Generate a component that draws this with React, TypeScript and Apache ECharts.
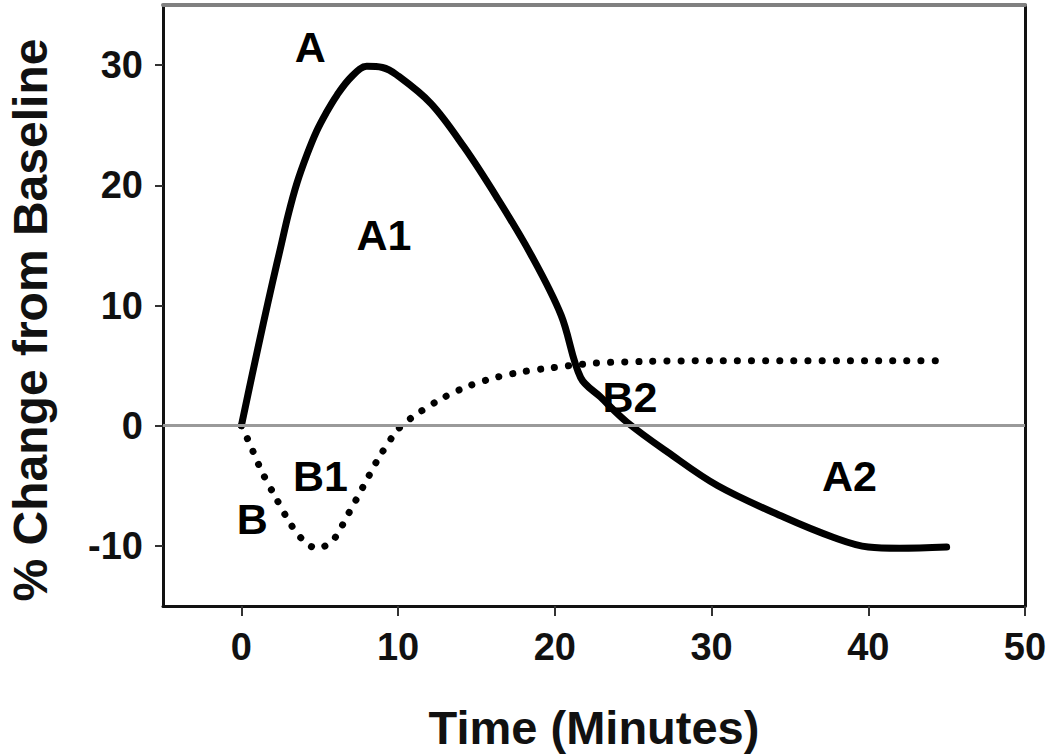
import React, { useEffect, useRef } from "react";
import * as echarts from "echarts";

const FONT = '"Liberation Sans", Arial, Helvetica, sans-serif';

const xTicks = [0, 10, 20, 30, 40, 50];
const yTicks = [-10, 0, 10, 20, 30];

// Solid curve (A)
const curveA: number[][] = [
  [0, 0], [0.7, 4.3], [1.4, 8.5], [2.0, 12.0], [2.5, 14.8], [3.0, 17.6],
  [3.55, 20.2], [4.2, 22.6], [4.8, 24.5], [5.4, 26.0], [6.1, 27.5],
  [7.0, 29.0], [8.0, 29.9], [9.0, 29.8], [9.9, 29.2],
  [12.1, 26.8], [14.2, 23.2], [16.3, 19.0], [18.45, 14.3], [20.4, 9.2],
  [21.65, 4.0], [22.9, 2.4], [24.6, 0.3], [27.2, -2.2], [30.4, -5.0],
  [34.6, -7.6], [37.8, -9.3], [40.0, -10.1], [42.0, -10.2], [45.0, -10.1],
];

// Dotted curve (B)
const curveB: number[][] = [
  [0, 0], [0.5, -1.4], [1.3, -3.8], [2.2, -6.0], [3.2, -8.3], [4.0, -9.6],
  [4.8, -10.2], [5.8, -9.6], [6.8, -7.4], [7.8, -5.0], [8.8, -2.6],
  [10.0, -0.3], [10.9, 0.7], [12.7, 2.2], [14.4, 3.25], [16.2, 4.0],
  [18.0, 4.5], [19.7, 4.8], [22.5, 5.2], [25.9, 5.35], [30.0, 5.4], [45.0, 5.4],
];

const annotations = [
  { name: "A", x: 4.4, y: 31.5 },
  { name: "A1", x: 9.1, y: 15.9 },
  { name: "B", x: 0.7, y: -7.8 },
  { name: "B1", x: 5.05, y: -4.2 },
  { name: "B2", x: 24.8, y: 2.4 },
  { name: "A2", x: 38.8, y: -4.2 },
];

const xTitle = "Time (Minutes)";
const yTitle = "% Change from Baseline";

export default function App() {
  const ref = useRef<HTMLDivElement>(null);
  useEffect(() => {
    const chart = echarts.init(ref.current!, null, { renderer: "svg" });
    chart.setOption({
      animation: false,
      backgroundColor: "#fff",
      grid: { left: 163, right: 25, top: 5, bottom: 149 },
      xAxis: [
        {
          type: "value", min: -5, max: 50, position: "bottom",
          axisLine: { show: true, onZero: false, lineStyle: { color: "#111", width: 3 } },
          axisTick: { show: true, customValues: xTicks, length: 10, lineStyle: { color: "#333", width: 2 } },
          axisLabel: { customValues: xTicks, margin: 22, fontSize: 38, fontWeight: "bold", color: "#111", fontFamily: FONT },
          splitLine: { show: false },
          name: xTitle, nameLocation: "middle", nameGap: 98,
          nameTextStyle: { fontSize: 47, fontWeight: "bold", color: "#111", fontFamily: FONT },
        },
        {
          type: "value", min: -5, max: 50, position: "top",
          axisLine: { show: true, onZero: false, lineStyle: { color: "#808080", width: 4 } },
          axisTick: { show: false }, axisLabel: { show: false }, splitLine: { show: false },
        },
      ],
      yAxis: [
        {
          type: "value", min: -15, max: 35, position: "left",
          axisLine: { show: true, onZero: false, lineStyle: { color: "#111", width: 3 } },
          axisTick: { show: true, customValues: yTicks, length: 8, lineStyle: { color: "#333", width: 2 } },
          axisLabel: { customValues: yTicks, margin: 20, fontSize: 38, fontWeight: "bold", color: "#111", fontFamily: FONT },
          splitLine: { show: false },
        },
        {
          type: "value", min: -15, max: 35, position: "right",
          axisLine: { show: true, onZero: false, lineStyle: { color: "#111", width: 3 } },
          axisTick: { show: false }, axisLabel: { show: false }, splitLine: { show: false },
        },
      ],
      graphic: [
        {
          type: "text", x: 30, y: 320, rotation: Math.PI / 2,
          style: {
            text: yTitle, textAlign: "center", textVerticalAlign: "middle",
            fontSize: 48, fontWeight: "bold", fill: "#111", fontFamily: FONT,
          },
        },
      ],
      series: [
        {
          name: "B", type: "line", data: curveB, smooth: 0.3, symbol: "none",
          lineStyle: { color: "#000", width: 7, type: [0.1, 14], cap: "round" },
          markLine: {
            silent: true, symbol: ["none", "none"], label: { show: false },
            lineStyle: { color: "#9a9a9a", width: 3, type: "solid" },
            data: [{ yAxis: 0 }],
          },
          z: 2,
        },
        {
          name: "A", type: "line", data: curveA, smooth: 0.35, symbol: "none",
          lineStyle: { color: "#000", width: 7, type: "solid", cap: "round", join: "round" },
          z: 3,
        },
        {
          name: "labels", type: "scatter", symbolSize: 1,
          itemStyle: { color: "rgba(0,0,0,0)", opacity: 1 },
          data: annotations.map((a) => ({ name: a.name, value: [a.x, a.y] })),
          label: {
            show: true, position: "inside", formatter: "{b}", opacity: 1,
            fontSize: 43, fontWeight: "bold", color: "#000", fontFamily: FONT,
            textBorderWidth: 0,
          },
          z: 1,
        },
      ],
    });
    return () => chart.dispose();
  }, []);
  return (
    <div
      ref={ref}
      style={{ position: "fixed", left: 0, top: 0, width: 1050, height: 756, background: "#fff" }}
    />
  );
}
